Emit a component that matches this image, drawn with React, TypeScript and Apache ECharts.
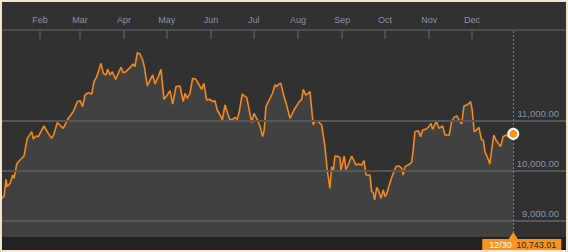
import React, { useEffect, useRef } from "react";
import * as echarts from "echarts";

const YEAR = 2010;
const MONTH_STARTS = [31, 59, 90, 120, 151, 181, 212, 243, 273, 304, 334];
const MONTH_LABELS = ["Feb", "Mar", "Apr", "May", "Jun", "Jul", "Aug", "Sep", "Oct", "Nov", "Dec"];
const GRID_LEVELS = [9000, 10000, 11000];
const X_MIN = 4.35;
const X_MAX = 400;
const Y_MIN = 8680;
const Y_MAX = 12820;

// [day of year (Jan 1 = 0), close]
const CLOSES: [number, number][] = [
  [4.1, 9454], [5.8, 9500], [7.2, 9834], [7.9, 9687], [10.0, 9753], [11.9, 9920], [12.8, 9853],
  [14.7, 10140], [17.0, 10220], [19.8, 10300], [22.1, 10653], [25.2, 10787], [26.3, 10640],
  [28.2, 10700], [29.8, 10687], [33.8, 10900], [36.8, 10753], [39.2, 10653], [40.8, 10740],
  [43.1, 10967], [45.0, 10920], [47.3, 10853], [50.9, 11053], [54.4, 11187], [57.2, 11387],
  [59.1, 11407], [60.9, 11287], [62.6, 11520], [64.9, 11567], [67.3, 11540], [68.9, 11787],
  [70.8, 11887], [73.8, 12153], [75.4, 11953], [77.3, 11920], [78.5, 12033], [80.1, 11920],
  [81.7, 11987], [84.1, 11833], [85.9, 11953], [87.8, 12073], [89.4, 11967], [91.3, 11987],
  [93.6, 12053], [96.4, 12140], [97.6, 12087], [99.3, 12367], [101.1, 12340], [103.0, 12220],
  [104.2, 12087], [106.3, 11700], [108.2, 11820], [110.1, 11920], [111.7, 11740], [114.0, 11887],
  [115.9, 12033], [118.0, 11433], [120.3, 11520], [122.2, 11607], [124.1, 11340], [126.4, 11687],
  [129.2, 11700], [131.5, 11387], [132.7, 11553], [134.3, 11453], [136.2, 11553], [138.1, 11853],
  [140.4, 11833], [142.7, 11720], [144.4, 11633], [146.0, 11753], [147.9, 11420], [150.2, 11433],
  [152.1, 11387], [153.7, 11407], [155.4, 11220], [157.3, 11120], [158.9, 11020], [160.8, 11320],
  [162.6, 11153], [164.3, 11020], [166.2, 11033], [167.8, 11073], [169.4, 11033], [170.8, 11187],
  [172.9, 11540], [175.0, 11487], [176.0, 11473], [177.8, 11220], [179.5, 10967], [181.1, 11153],
  [183.4, 11033], [185.3, 10900], [187.2, 10687], [188.3, 10820], [189.5, 11287], [191.8, 11420],
  [194.2, 11560], [195.8, 11720], [197.2, 11690], [198.6, 11740], [200.0, 11753], [201.7, 11540],
  [204.0, 11320], [206.4, 11053], [209.2, 11220], [212.9, 11387], [214.6, 11433], [215.7, 11633],
  [217.4, 11520], [219.2, 11553], [220.4, 11587], [222.7, 10920], [223.9, 11007], [226.2, 10987],
  [228.6, 10920], [230.9, 10487], [232.5, 10020], [234.4, 9653], [235.6, 10087], [236.7, 9987],
  [237.9, 10300], [240.2, 10287], [241.4, 10273], [242.1, 10020], [243.3, 10153], [244.4, 10300],
  [245.6, 10033], [247.2, 10120], [249.6, 10300], [251.2, 10207], [252.6, 10120], [254.3, 10140],
  [256.6, 10120], [258.3, 10207], [259.7, 9920], [262.5, 9920], [263.7, 9587], [264.8, 9567],
  [265.8, 9420], [267.2, 9673], [268.8, 9587], [270.2, 9453], [271.8, 9620], [273.0, 9487],
  [274.2, 9540], [276.5, 9767], [278.4, 9920], [280.7, 10087], [283.0, 10100], [284.7, 10053],
  [285.8, 9920], [287.0, 10087], [289.3, 10120], [291.7, 10167], [292.8, 10420], [294.0, 10787],
  [296.4, 10807], [298.0, 10687], [299.4, 10820], [301.5, 10833], [303.4, 10873], [305.3, 10953],
  [306.4, 10833], [308.1, 10940], [309.2, 10987], [310.9, 10853], [313.5, 10900], [315.1, 10720],
  [318.1, 10720], [319.8, 10987], [321.4, 11073], [323.3, 11100], [325.1, 11020], [326.8, 10940],
  [328.4, 11300], [330.3, 11320], [331.4, 11340], [333.1, 11387], [334.2, 11220], [335.6, 10787],
  [337.3, 10820], [338.9, 10873], [340.8, 10620], [342.0, 10620], [343.1, 10387], [344.7, 10287],
  [346.6, 10140], [347.8, 10420], [349.4, 10720], [350.8, 10620], [352.5, 10553], [354.1, 10487],
  [355.9, 10687], [357.9, 10720], [359.5, 10687], [361.2, 10720], [363, 10743.01],
];

const FONT = "'Liberation Sans', Arial, sans-serif";
const ORANGE = "#f7941d";

const fmt = (v: number) =>
  v.toLocaleString("en-US", { minimumFractionDigits: 2, maximumFractionDigits: 2 });

export default function App() {
  const ref = useRef<HTMLDivElement>(null);

  useEffect(() => {
    if (!ref.current) return;
    const chart = echarts.init(ref.current, null, { renderer: "svg" });
    const last = CLOSES[CLOSES.length - 1];
    const d = new Date(Date.UTC(YEAR, 0, 1) + last[0] * 86400000);
    const dateLabel = `${d.getUTCMonth() + 1}/${d.getUTCDate()}`;

    chart.setOption({
      animation: false,
      backgroundColor: "#313131",
      grid: { left: 0, right: 0, top: 28, bottom: 13, containLabel: false },
      xAxis: {
        type: "value",
        position: "top",
        min: X_MIN,
        max: X_MAX,
        axisLine: { show: true, lineStyle: { color: "#585858", width: 1.5 } },
        axisTick: {
          show: true,
          inside: true,
          length: 9,
          customValues: MONTH_STARTS,
          lineStyle: { color: "#585858", width: 1.5 },
        },
        axisLabel: {
          customValues: MONTH_STARTS,
          formatter: (v: number) => MONTH_LABELS[MONTH_STARTS.indexOf(Math.round(v))] ?? "",
          color: "#8a93a6",
          fontSize: 9,
          fontFamily: FONT,
          margin: 6,
        },
        splitLine: { show: false },
      },
      yAxis: {
        type: "value",
        min: Y_MIN,
        max: Y_MAX,
        show: false,
        splitLine: { show: false },
      },
      series: [
        {
          type: "line",
          data: CLOSES,
          showSymbol: false,
          symbol: "none",
          lineStyle: { color: "#f28a1e", width: 1.6 },
          areaStyle: { color: "#414141", opacity: 1, origin: "start" },
          markLine: {
            symbol: "none",
            silent: true,
            animation: false,
            data: [
              ...GRID_LEVELS.map((v) => ({
                yAxis: v,
                lineStyle: { color: "#575757", width: 2, type: "solid" },
                label: {
                  show: true,
                  position: "insideEndTop",
                  formatter: fmt(v),
                  color: "#8a93a6",
                  fontSize: 9.5,
                  fontFamily: FONT,
                  distance: [7, 3],
                },
              })),
              {
                xAxis: last[0],
                lineStyle: { color: "#b8781e", width: 1, type: [2, 2] },
                label: { show: false },
              },
            ],
          },
          z: 2,
        },
        {
          type: "scatter",
          data: [last],
          symbolSize: 10,
          itemStyle: { color: ORANGE, borderColor: "#ffffff", borderWidth: 2, opacity: 1 },
          z: 5,
        },
      ],
    });

    const [px] = chart.convertToPixel({ gridIndex: 0 }, last) as number[];
    chart.setOption({
      graphic: [
        { type: "rect", shape: { x: 0, y: 235, width: 564, height: 13 }, style: { fill: "#222222" }, z: 1 },
        {
          type: "polygon",
          shape: { points: [[px - 5, 237.5], [px, 230], [px + 5, 237.5]] },
          style: { fill: ORANGE },
          z: 10,
        },
        { type: "rect", shape: { x: px - 31, y: 237, width: 79, height: 11 }, style: { fill: ORANGE }, z: 10 },
        {
          type: "text",
          x: px - 24,
          y: 243,
          style: {
            text: dateLabel,
            fill: "#ffffff",
            font: `9px ${FONT}`,
            verticalAlign: "middle",
            textAlign: "left",
          },
          z: 11,
        },
        {
          type: "text",
          x: px + 43,
          y: 243,
          style: {
            text: fmt(last[1]),
            fill: "#2b2b2b",
            font: `9px ${FONT}`,
            verticalAlign: "middle",
            textAlign: "right",
          },
          z: 11,
        },
      ],
    });

    return () => chart.dispose();
  }, []);

  return (
    <div style={{ position: "absolute", left: 0, top: 0, width: 568, height: 252, background: "#f3e4cd" }}>
      <div ref={ref} style={{ position: "absolute", left: 2, top: 2, width: 564, height: 248 }} />
    </div>
  );
}
